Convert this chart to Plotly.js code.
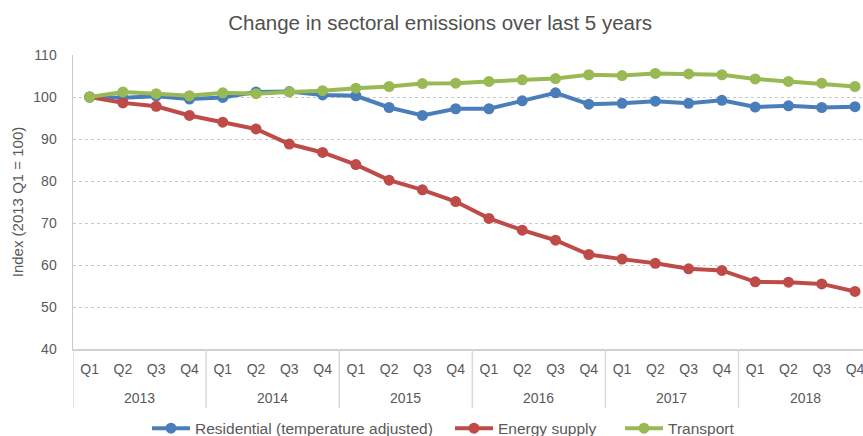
<!DOCTYPE html>
<html><head><meta charset="utf-8">
<script src="https://cdn.plot.ly/plotly-3.0.1.min.js"></script>
<style>html,body{margin:0;padding:0;background:#fff;}#chart{width:863px;height:436px;}</style>
</head><body><div id="chart"></div>
<script>
const years = ["2013","2013","2013","2013","2014","2014","2014","2014","2015","2015","2015","2015","2016","2016","2016","2016","2017","2017","2017","2017","2018","2018","2018","2018"];
const quarters = ["Q1","Q2","Q3","Q4","Q1","Q2","Q3","Q4","Q1","Q2","Q3","Q4","Q1","Q2","Q3","Q4","Q1","Q2","Q3","Q4","Q1","Q2","Q3","Q4"];
const residential = [100,99.8,100.2,99.5,99.9,101.2,101.3,100.5,100.3,97.5,95.6,97.2,97.2,99.1,101.0,98.3,98.5,99.0,98.5,99.2,97.6,97.9,97.5,97.7];
const energySupply = [100,98.6,97.8,95.6,94.0,92.4,88.8,86.8,83.9,80.2,77.9,75.1,71.1,68.3,65.9,62.5,61.4,60.4,59.1,58.7,56.0,55.9,55.5,53.7];
const transport = [100,101.2,100.8,100.3,101.0,100.8,101.2,101.5,102.1,102.5,103.2,103.3,103.7,104.1,104.4,105.3,105.1,105.6,105.5,105.3,104.3,103.7,103.3,102.5];
const seriesNames = ["Residential (temperature adjusted)","Energy supply","Transport"];
const colors = ["#4A7EBB","#BE4B48","#98B954"];

// unique category keys (year + quarter), displayed as quarter only
const xKeys = years.map((y, i) => y + " " + quarters[i]);
const legendIds = ["legend", "legend2", "legend3"];

const data = [residential, energySupply, transport].map((ys, i) => ({
  type: "scatter", mode: "lines+markers",
  x: xKeys, y: ys, name: seriesNames[i], legend: legendIds[i],
  line: {color: colors[i], width: 4},
  marker: {color: colors[i], size: 11}
}));

// year groups -> labels and dividers
const yearGroups = [];
years.forEach((y, i) => {
  const g = yearGroups[yearGroups.length - 1];
  if (g && g.year === y) g.last = i; else yearGroups.push({year: y, first: i, last: i});
});
const plotH = 436 - 55 - 87;
const annotations = yearGroups.map(g => ({
  xref: "x", yref: "paper", x: (g.first + g.last) / 2, y: 0, yshift: -48.7,
  yanchor: "middle", xanchor: "center", showarrow: false, text: g.year,
  font: {size: 14, color: "#595959"}
}));
const shapes = yearGroups.map(g => ({
  type: "line", xref: "x", yref: "paper", x0: g.first - 0.5, x1: g.first - 0.5,
  y0: 0, y1: -59 / plotH, line: {color: "#d9d9d9", width: 1.5}
}));

const legendBase = {orientation: "h", xref: "container", xanchor: "left", yref: "container", y: 0.017, yanchor: "middle",
  font: {size: 15.5, color: "#595959"}, itemwidth: 38, bgcolor: "rgba(0,0,0,0)"};
const legendStarts = [152, 455, 625];

const layout = {
  width: 863, height: 436,
  margin: {l: 73, r: 0, t: 55, b: 87},
  paper_bgcolor: "#fff", plot_bgcolor: "#fff",
  font: {family: "Liberation Sans, Arial, sans-serif", color: "#595959", size: 14},
  title: {text: "Change in sectoral emissions over last 5 years", x: 0.51, xref: "container", y: 0.947, yref: "container", yanchor: "middle",
          font: {size: 20.5, color: "#505050"}},
  xaxis: {type: "category", tickvals: xKeys, ticktext: quarters, range: [-0.5, 23.24], showline: true, linecolor: "#d0d0d0", linewidth: 1.5,
          showgrid: false, ticks: "", automargin: false, ticklabelstandoff: 7,
          tickfont: {size: 14, color: "#595959"}},
  yaxis: {range: [40, 110], dtick: 10, showgrid: true, gridcolor: "#c8c8c8", griddash: "dot", gridwidth: 1,
          showline: true, linecolor: "#c8c8c8", linewidth: 1.5, zeroline: false, ticks: "", ticklabelstandoff: 12,
          automargin: false,
          title: {text: "Index (2013 Q1 = 100)", font: {size: 15, color: "#595959"}, standoff: 6},
          tickfont: {size: 14, color: "#595959"}},
  annotations: annotations,
  shapes: shapes,
  showlegend: true
};
legendIds.forEach((id, i) => {
  layout[id] = Object.assign({}, legendBase, {x: (legendStarts[i] - 5) / 863});
});
Plotly.newPlot("chart", data, layout, {displayModeBar: false, staticPlot: true});
</script></body></html>
